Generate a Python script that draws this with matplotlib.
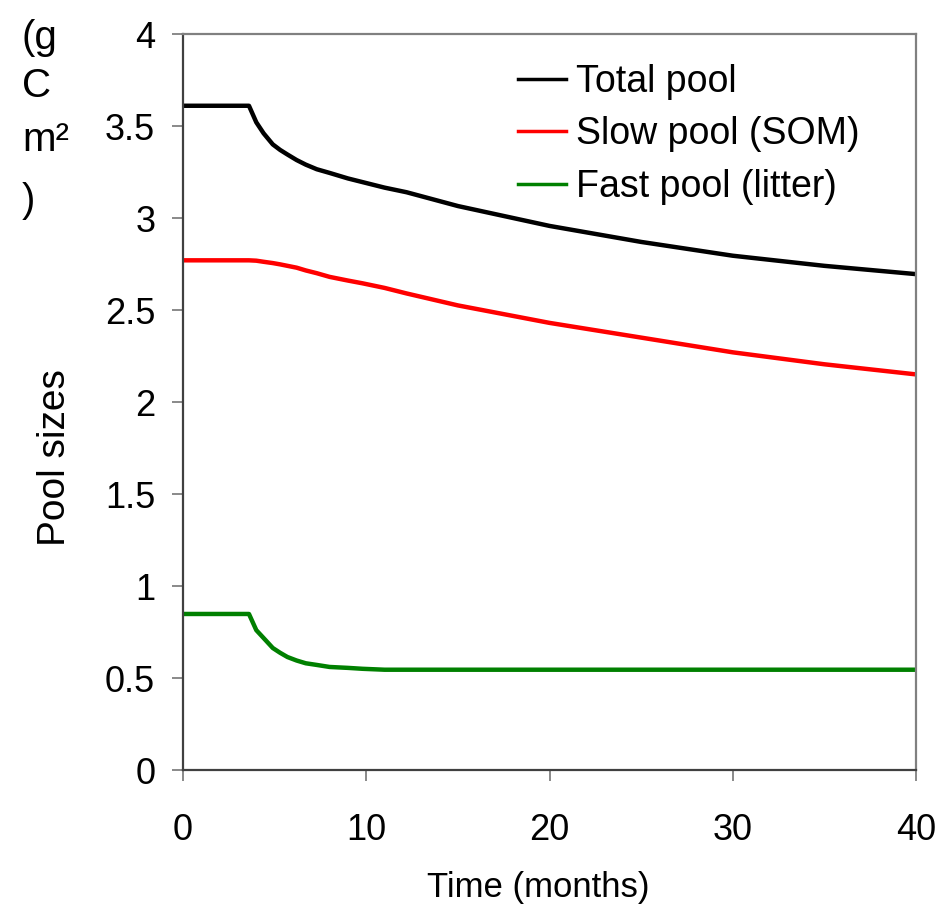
import matplotlib
matplotlib.use("Agg")
import matplotlib.pyplot as plt

plt.rcParams['font.family'] = ['Liberation Sans', 'DejaVu Sans']

# Pool sizes over time (months)
time_months = [0, 3.6, 4.0, 4.4, 4.9, 5.3, 5.7, 6.2, 6.7, 7.3, 8.0, 9.0, 9.8,
               11.0, 12.2, 15, 20, 25, 30, 35, 40]
total_pool = [3.61, 3.61, 3.52, 3.46, 3.40, 3.37, 3.345, 3.315, 3.29, 3.265, 3.245,
              3.215, 3.195, 3.165, 3.14, 3.065, 2.957, 2.87, 2.795, 2.74, 2.695]
slow_pool = [2.77, 2.77, 2.768, 2.762, 2.755, 2.748, 2.74, 2.73, 2.715, 2.70, 2.68,
             2.66, 2.645, 2.62, 2.59, 2.525, 2.43, 2.35, 2.27, 2.205, 2.15]
fast_pool = [0.848, 0.848, 0.76, 0.717, 0.663, 0.637, 0.614, 0.595, 0.58, 0.571, 0.56,
             0.555, 0.55, 0.545, 0.545, 0.545, 0.545, 0.545, 0.545, 0.545, 0.545]

series_labels = ["Total pool", "Slow pool (SOM)", "Fast pool (litter)"]
series_colors = ["#000000", "#ff0000", "#008000"]

x_ticks = [0, 10, 20, 30, 40]
y_ticks = [0, 0.5, 1, 1.5, 2, 2.5, 3, 3.5, 4]
y_tick_labels = ["0", "0.5", "1", "1.5", "2", "2.5", "3", "3.5", "4"]

fig = plt.figure(figsize=(9.51, 9.10), dpi=100)
ax = fig.add_axes([183 / 951, 1 - 770 / 910, (916 - 183) / 951, (770 - 34) / 910])

for values, label, color in zip([total_pool, slow_pool, fast_pool], series_labels, series_colors):
    ax.plot(time_months, values, color=color, lw=3.2, label=label)

ax.set_xlim(0, 40)
ax.set_ylim(0, 4)
ax.set_xticks(x_ticks)
ax.set_xticklabels([str(v) for v in x_ticks])
ax.set_yticks(y_ticks)
ax.set_yticklabels(y_tick_labels)

for side in ['left', 'bottom']:
    ax.spines[side].set_color('#404040')
    ax.spines[side].set_linewidth(1.6)
for side in ['top', 'right']:
    ax.spines[side].set_color('#808080')
    ax.spines[side].set_linewidth(1.6)

ax.tick_params(axis='both', direction='out', length=8, width=1.3, color='#808080',
               labelsize=26, labelcolor='black')
ax.tick_params(axis='y', pad=12)
ax.tick_params(axis='x', pad=23)

fig.text(538 / 951, 1 - 888 / 910, "Time (months)", fontsize=25, ha='center', va='center')
fig.text(55 / 951, 1 - 458 / 910, "Pool sizes", rotation=90, fontsize=28,
         ha='center', va='center')
for txt, yc in [("(g", 38), ("C", 86), ("m²", 140), (")", 201)]:
    fig.text(22 / 951, 1 - yc / 910, txt, fontsize=29, ha='left', va='center')

leg = ax.legend(loc='upper left', bbox_to_anchor=(0.436, 0.98), frameon=False,
                fontsize=27, handlelength=1.3, handletextpad=0.27, labelspacing=0.44,
                borderaxespad=0)
for line in leg.get_lines():
    line.set_linewidth(2.5)

fig.savefig("out.png", dpi=100)
